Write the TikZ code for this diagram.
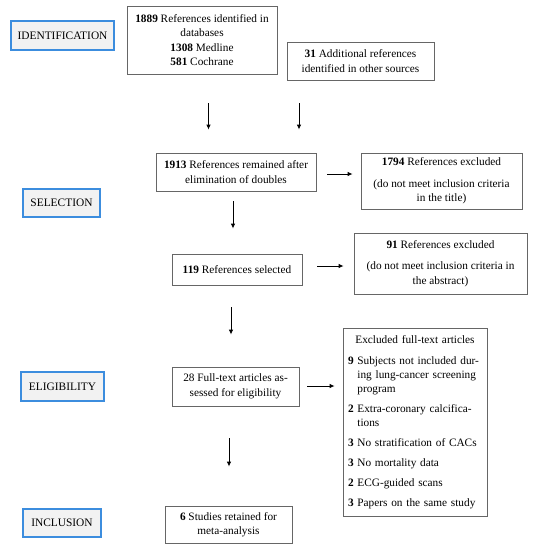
\documentclass[tikz,border=0pt]{standalone}
\usepackage{fontspec}
\setmainfont{Liberation Serif}
\usetikzlibrary{arrows.meta}
\definecolor{stageblue}{HTML}{3C8DDE}
\definecolor{stagefill}{HTML}{F2F2F2}
\definecolor{boxgray}{HTML}{666666}
\tikzset{
	stage/.style 2 args={draw=stageblue,line width=1.3pt,fill=stagefill,inner sep=0pt,minimum width=#1,minimum height=#2,font=\fontsize{11.4}{13}\selectfont},
	box/.style 2 args={draw=boxgray,line width=0.8pt,align=center,inner sep=0pt,minimum width=#1,minimum height=#2,font=\fontsize{11.3}{14.5}\selectfont},
	arr/.style 2 args={line width=0.9pt,-{Latex[length=5pt,width=4.5pt]},shorten <=#1,shorten >=#2}
}

\begin{document}
\begin{tikzpicture}[x=1pt,y=-1pt]
						\useasboundingbox (0,0) rectangle (538,550);

						\node [stage={103}{29}] (ident) at (62.5,35.5) {IDENTIFICATION};
						\node [stage={77}{28}] (select) at (61.5,203) {SELECTION};
						\node [stage={83}{29}] (elig) at (62.5,386.5) {ELIGIBILITY};
						\node [stage={78}{28}] (incl) at (62,523) {INCLUSION};

						\node [box={150}{68}] (db) at (202,40) {\textbf{1889} References identified in\\databases\\\textbf{1308} Medline\\\textbf{581} Cochrane};
						\node [box={147}{38}] (other) at (360.5,61) {\textbf{31} Additional references\\identified in other sources};
						\node [box={160}{38}] (dedup) at (236,172) {\textbf{1913} References remained after\\elimination of doubles};
						\node [box={161}{56}] (exttl) at (441.5,181) {\textbf{1794} References excluded\\[7pt](do not meet inclusion criteria\\in the title)};
						\node [box={130}{31}] (sel) at (237,269.5) {\textbf{119} References selected};
						\node [box={173}{61}] (exabs) at (440.5,263.5) {\textbf{91} References excluded\\[7pt](do not meet inclusion criteria in\\the abstract)};
						\node [box={127}{39}] (full) at (235.5,386.5) {28 Full-text articles as-\\sessed for eligibility};
						\node [box={127}{37}] (meta) at (228.5,524.5) {\textbf{6} Studies retained for\\meta-analysis};
						\node [box={144}{188},align=left,text width=134pt,font=\fontsize{11.3}{14}\selectfont] (exfull) at (415,422) {\makebox[134pt]{Excluded full-text articles}\\[7pt]
							\textbf{9} Subjects not included dur-\\
							\hphantom{\textbf{9} }ing lung-cancer screening\\
							\hphantom{\textbf{9} }program\\[6pt]
							\textbf{2} Extra-coronary calcifica-\\
							\hphantom{\textbf{2} }tions\\[6pt]
							\textbf{3} No stratification of CACs\\[6pt]
							\textbf{3} No mortality data\\[6pt]
							\textbf{2} ECG-guided scans\\[6pt]
							\textbf{3} Papers on the same study};

						\coordinate (v1) at (208.5,0);
						\coordinate (v2) at (299,0);
						\coordinate (v3) at (233,0);
						\coordinate (v4) at (231,0);
						\coordinate (v5) at (229,0);
						\coordinate (h1) at (0,174);
						\coordinate (h2) at (0,266);
						\coordinate (h3) at (0,386);

						\draw [arr={29pt}{23pt}] (db.south -| v1) -- (dedup.north -| v1);
						\draw [arr={23pt}{23pt}] (other.south -| v2) -- (dedup.north -| v2);
						\draw [arr={10pt}{25pt}] (dedup.south -| v3) -- (sel.north -| v3);
						\draw [arr={22pt}{32pt}] (sel.south -| v4) -- (full.north -| v4);
						\draw [arr={32pt}{39pt}] (full.south -| v5) -- (meta.north -| v5);
						\draw [arr={11pt}{8pt}] (dedup.east |- h1) -- (exttl.west |- h1);
						\draw [arr={15pt}{10pt}] (sel.east |- h2) -- (exabs.west |- h2);
						\draw [arr={8pt}{8pt}] (full.east |- h3) -- (exfull.west |- h3);
					\end{tikzpicture}
\end{document}
